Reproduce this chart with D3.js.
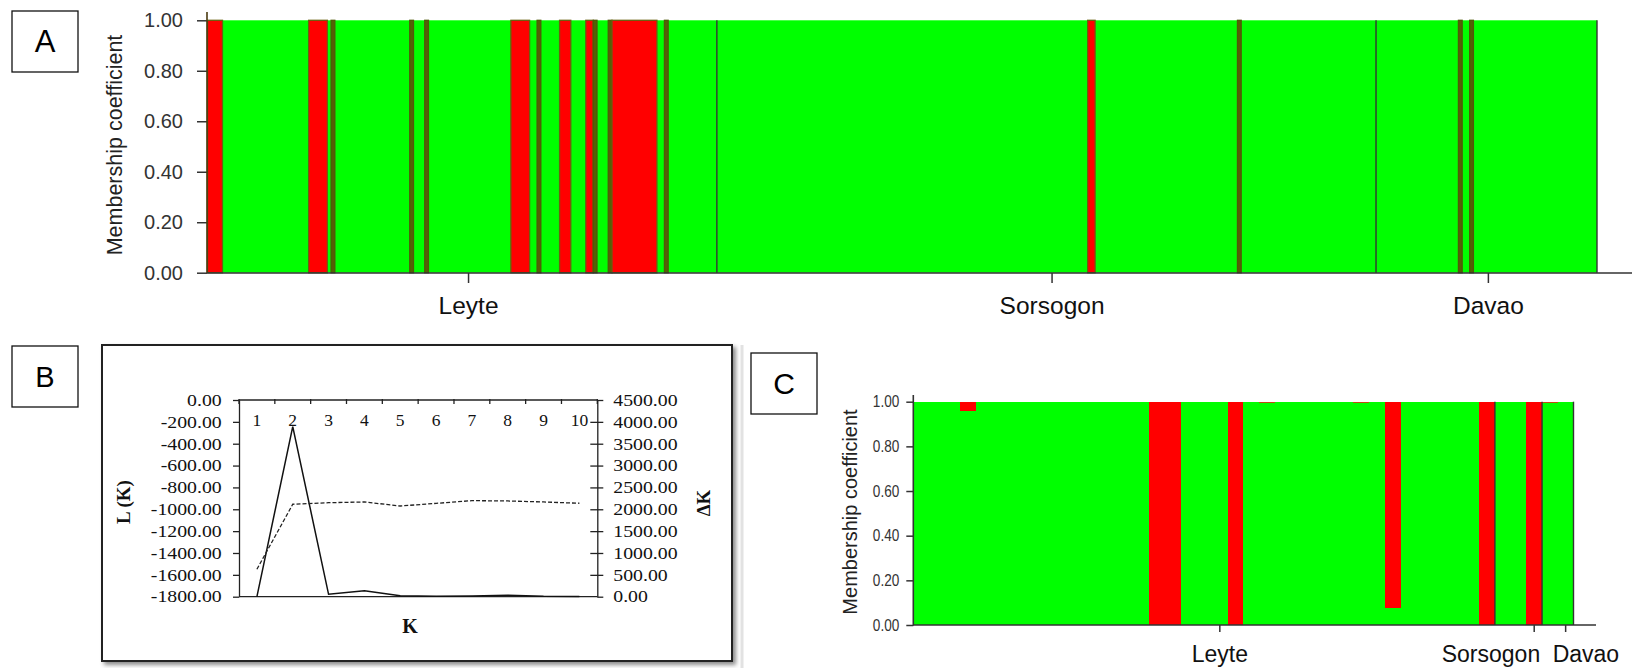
<!DOCTYPE html>
<html><head><meta charset="utf-8">
<script src="https://cdn.jsdelivr.net/npm/d3@7"></script>
<style>body{margin:0;background:#fff}svg{display:block}</style>
</head><body>
<svg id="fig" width="1632" height="668"></svg>
<script>
// ---------------- Panel A data (STRUCTURE bar plot, K=2) ----------------
const popsA = ["Leyte", "Sorsogon", "Davao"];
const popSizesA = [136, 176, 59];                 // individuals per population
const tickPosA = [69.7, 225.5, 342];             // label tick positions (individual units)
const redStartA = [0, 27, 33, 54, 58, 81, 88, 94, 101, 103, 107, 108, 122, 235, 275, 334, 337];
const redCountA = [4, 5, 1, 1, 1, 5, 1, 3, 2, 1, 1, 12, 1, 2, 1, 1, 1];
const yTicksA = [0, 0.2, 0.4, 0.6, 0.8, 1.0];

// ---------------- Panel B data (Evanno) ----------------
const kValues = [1, 2, 3, 4, 5, 6, 7, 8, 9, 10];
const deltaK = [0, 3890, 55, 137, 23, 8, 15, 35, 8, 3];
const meanLK = [-1549, -954, -940, -933, -970, -946, -921, -924, -933, -945];
const lkTicks = [0, -200, -400, -600, -800, -1000, -1200, -1400, -1600, -1800];
const dkTicks = [0, 500, 1000, 1500, 2000, 2500, 3000, 3500, 4000, 4500];

// ---------------- Panel C data ----------------
const popsC = ["Leyte", "Sorsogon", "Davao"];
const popSizesC = [37, 3, 2];
const tickPosC = [19.5, 39.5, 41.5];
const redC = [0, 0, 0, 0.04, 0, 0, 0, 0, 0, 0,
              0, 0, 0, 0, 0, 1, 1, 0, 0, 0,
              1, 0, 0.008, 0, 0, 0, 0, 0, 0.008, 0,
              0.925, 0, 0, 0, 0, 0, 1, 0, 0, 1,
              0.008, 0];
const yTicksC = [0, 0.2, 0.4, 0.6, 0.8, 1.0];

const GREEN = "#00ff00", RED = "#ff0000";
const svg = d3.select("#fig");
svg.append("rect").attr("width", 1632).attr("height", 668).attr("fill", "#fff");

const defs = svg.append("defs");
const f = defs.append("filter").attr("id", "shadow").attr("x", "-5%").attr("y", "-5%").attr("width", "115%").attr("height", "115%");
f.append("feDropShadow").attr("dx", 3).attr("dy", 3).attr("stdDeviation", 2).attr("flood-color", "#000").attr("flood-opacity", 0.45);

// panel label boxes
function panelBox(x, y, w, h, letter, fs) {
  svg.append("rect").attr("x", x).attr("y", y).attr("width", w).attr("height", h)
    .attr("fill", "#fff").attr("stroke", "#111").attr("stroke-width", 1.3);
  svg.append("text").attr("x", x + w / 2).attr("y", y + h / 2).attr("text-anchor", "middle")
    .attr("dominant-baseline", "central").attr("font-family", "Liberation Sans, Arial, sans-serif")
    .attr("font-size", fs).attr("fill", "#000").text(letter);
}
panelBox(12, 11, 66, 61, "A", 31);
panelBox(12, 346, 66, 61, "B", 29);
panelBox(751, 353, 66, 61, "C", 30);

// ================= Panel A =================
(function () {
  const total = d3.sum(popSizesA);
  const x = d3.scaleLinear().domain([0, total]).range([207.5, 1597]);
  const y = d3.scaleLinear().domain([0, 1]).range([272.7, 20.3]);
  const g = svg.append("g");
  const bounds = d3.cumsum([0].concat(popSizesA));
  g.selectAll("rect.green").data(popSizesA).join("rect").attr("class", "green")
    .attr("x", (d, i) => x(bounds[i])).attr("width", (d, i) => x(bounds[i + 1]) - x(bounds[i]))
    .attr("y", y(1)).attr("height", y(0) - y(1)).attr("fill", GREEN);
  const runs = redStartA.map((s, i) => ({ s, c: redCountA[i] }));
  g.selectAll("rect.red").data(runs).join("rect").attr("class", "red")
    .attr("x", d => x(d.s)).attr("width", d => x(d.s + d.c) - x(d.s))
    .attr("y", y(1)).attr("height", y(0) - y(1))
    .attr("fill", d => d.c === 1 ? "#556006" : RED)
    .attr("stroke", d => d.c === 1 ? "#4f5a08" : "#6a6010").attr("stroke-width", 1.3);
  g.selectAll("line.sep").data(bounds.slice(1)).join("line").attr("class", "sep")
    .attr("x1", d => x(d)).attr("x2", d => x(d)).attr("y1", y(1)).attr("y2", y(0))
    .attr("stroke", "#333").attr("stroke-width", 1.4);
  const ya = d3.axisLeft(y).tickValues(yTicksA).tickFormat(d3.format(".2f")).tickSize(10).tickPadding(14);
  const yg = g.append("g").attr("transform", "translate(207,0)").call(ya);
  yg.select(".domain").remove();
  yg.selectAll("line").attr("stroke", "#333").attr("stroke-width", 1.5);
  yg.selectAll("text").attr("font-family", "Liberation Sans, Arial, sans-serif").attr("font-size", 20).attr("fill", "#333");
  g.append("line").attr("x1", 207).attr("x2", 207).attr("y1", 12).attr("y2", 273).attr("stroke", "#4a3a10").attr("stroke-width", 1.6);
  g.append("line").attr("x1", 207).attr("x2", 1632).attr("y1", 273).attr("y2", 273).attr("stroke", "#333").attr("stroke-width", 1.5);
  const xt = g.selectAll("g.xt").data(popsA).join("g").attr("class", "xt")
    .attr("transform", (d, i) => `translate(${x(tickPosA[i])},273)`);
  xt.append("line").attr("y2", 10).attr("stroke", "#333").attr("stroke-width", 1.5);
  xt.append("text").attr("y", 41).attr("text-anchor", "middle").attr("font-family", "Liberation Sans, Arial, sans-serif")
    .attr("font-size", 24.5).attr("fill", "#111").text(d => d);
  svg.append("text").attr("transform", "translate(115,145) rotate(-90)").attr("text-anchor", "middle")
    .attr("dominant-baseline", "central").attr("font-family", "Liberation Sans, Arial, sans-serif")
    .attr("font-size", 21.5).attr("fill", "#222").text("Membership coefficient");
})();

// ================= Panel B =================
(function () {
  svg.append("rect").attr("x", 102).attr("y", 345).attr("width", 630).attr("height", 316)
    .attr("fill", "#fff").attr("stroke", "#222").attr("stroke-width", 2).attr("filter", "url(#shadow)");
  const L = 239, R = 597.3, T = 400, B = 596.7;
  const xk = d3.scaleLinear().domain([0.5, 10.5]).range([L, R]);
  const yl = d3.scaleLinear().domain([-1800, 0]).range([B, T]);
  const yd = d3.scaleLinear().domain([0, 4500]).range([B, T]);
  const g = svg.append("g");
  const serif = "Liberation Serif, Times New Roman, serif";
  g.append("line").attr("x1", L).attr("x2", R).attr("y1", T).attr("y2", T).attr("stroke", "#222").attr("stroke-width", 1.3);
  g.append("line").attr("x1", L).attr("x2", R).attr("y1", B).attr("y2", B).attr("stroke", "#222").attr("stroke-width", 1.3);
  const edges = d3.range(0, 11).map(i => i + 0.5);
  g.selectAll("line.kt").data(edges).join("line").attr("class", "kt")
    .attr("x1", d => xk(d)).attr("x2", d => xk(d)).attr("y1", T - 1).attr("y2", T + 4)
    .attr("stroke", "#222").attr("stroke-width", 1.3);
  g.selectAll("text.kl").data(kValues).join("text").attr("class", "kl")
    .attr("x", d => xk(d)).attr("y", 425.5).attr("text-anchor", "middle")
    .attr("font-family", serif).attr("font-size", 17.5).attr("fill", "#111").text(d => d);
  const la = d3.axisLeft(yl).tickValues(lkTicks).tickFormat(d3.format(".2f")).tickSize(6).tickSizeOuter(0);
  const lg = g.append("g").attr("transform", `translate(${L},0)`).call(la);
  lg.select(".domain").attr("stroke", "#222").attr("stroke-width", 1.3);
  lg.selectAll("line").attr("stroke", "#222").attr("stroke-width", 1.3);
  lg.selectAll("text").attr("x", -14.4).attr("transform", "scale(1.2,1)").attr("font-family", serif)
    .attr("font-size", 16.5).attr("fill", "#111").text(d => d3.format(".2f")(d).replace("−", "-"));
  const ra = d3.axisRight(yd).tickValues(dkTicks).tickFormat(d3.format(".2f")).tickSize(6).tickSizeOuter(0);
  const rg = g.append("g").attr("transform", `translate(${R},0)`).call(ra);
  rg.select(".domain").attr("stroke", "#222").attr("stroke-width", 1.3);
  rg.selectAll(".tick line").attr("x1", d => (d === 0 || d === 4500) ? 0 : -7).attr("stroke", "#222").attr("stroke-width", 1.3);
  rg.selectAll("text").attr("x", 13.3).attr("transform", "scale(1.2,1)").attr("font-family", serif)
    .attr("font-size", 16.5).attr("fill", "#111");
  const solid = d3.line().x((d, i) => xk(kValues[i])).y(d => yd(d));
  g.append("path").datum(deltaK).attr("d", solid).attr("fill", "none").attr("stroke", "#111").attr("stroke-width", 1.5);
  const dashed = d3.line().x((d, i) => xk(kValues[i])).y(d => yl(d));
  g.append("path").datum(meanLK).attr("d", dashed).attr("fill", "none").attr("stroke", "#222")
    .attr("stroke-width", 1.3).attr("stroke-dasharray", "4,2");
  g.append("text").attr("x", 410).attr("y", 633).attr("text-anchor", "middle").attr("font-family", serif)
    .attr("font-weight", "bold").attr("font-size", 20).attr("fill", "#111").text("K");
  g.append("text").attr("transform", "translate(123,502) rotate(-90)").attr("text-anchor", "middle")
    .attr("dominant-baseline", "central").attr("font-family", serif).attr("font-weight", "bold")
    .attr("font-size", 19).attr("fill", "#111").text("L (K)");
  g.append("text").attr("transform", "translate(703,503) rotate(-90)").attr("text-anchor", "middle")
    .attr("dominant-baseline", "central").attr("font-family", serif).attr("font-weight", "bold")
    .attr("font-size", 19).attr("fill", "#111").text("ΔK");
})();

svg.append("line").attr("x1", 742).attr("x2", 742).attr("y1", 345).attr("y2", 668).attr("stroke", "#e2e2e2").attr("stroke-width", 3);

// ================= Panel C =================
(function () {
  const n = redC.length;
  const x = d3.scaleLinear().domain([0, n]).range([913.3, 1573.5]);
  const y = d3.scaleLinear().domain([0, 1]).range([625, 401.7]);
  const g = svg.append("g").attr("shape-rendering", "crispEdges");
  const inds = redC.map((r, i) => ({ i, r }));
  g.selectAll("rect.g").data(inds).join("rect").attr("class", "g")
    .attr("x", d => x(d.i)).attr("width", d => x(d.i + 1) - x(d.i) + 0.6)
    .attr("y", d => y(1 - d.r)).attr("height", d => y(0) - y(1 - d.r)).attr("fill", GREEN);
  g.selectAll("rect.r").data(inds.filter(d => d.r > 0)).join("rect").attr("class", "r")
    .attr("x", d => x(d.i)).attr("width", d => x(d.i + 1) - x(d.i))
    .attr("y", y(1)).attr("height", d => Math.max(1.5, y(1 - d.r) - y(1)))
    .attr("fill", d => d.r < 0.02 && d.r > 0 && y(1 - d.r) - y(1) < 3 ? "#c24a10" : RED);
  const bounds = d3.cumsum(popSizesC);
  svg.selectAll("line.sepc").data(bounds).join("line").attr("class", "sepc")
    .attr("x1", d => x(d)).attr("x2", d => x(d)).attr("y1", y(1)).attr("y2", y(0))
    .attr("stroke", "#333").attr("stroke-width", 1.4);
  const ya = d3.axisLeft(y).tickValues(yTicksC).tickFormat(d3.format(".2f")).tickSize(7).tickPadding(7);
  const yg = svg.append("g").attr("transform", "translate(913.3,0)").call(ya);
  yg.select(".domain").remove();
  yg.selectAll("line").attr("stroke", "#333").attr("stroke-width", 1.5);
  yg.selectAll("text").attr("x", -14 / 0.85).attr("transform", "scale(0.85,1)")
    .attr("font-family", "Liberation Sans, Arial, sans-serif").attr("font-size", 16).attr("fill", "#333");
  svg.append("line").attr("x1", 913.3).attr("x2", 913.3).attr("y1", 395).attr("y2", 625.5).attr("stroke", "#333").attr("stroke-width", 1.6);
  svg.append("line").attr("x1", 913).attr("x2", 1596).attr("y1", 625).attr("y2", 625).attr("stroke", "#333").attr("stroke-width", 1.5);
  const anchors = ["middle", "end", "start"], dxs = [0, 6, -13];
  const xt = svg.selectAll("g.xtc").data(popsC).join("g").attr("class", "xtc")
    .attr("transform", (d, i) => `translate(${x(tickPosC[i])},625)`);
  xt.append("line").attr("y2", 7).attr("stroke", "#333").attr("stroke-width", 1.5);
  xt.append("text").attr("x", (d, i) => dxs[i]).attr("y", 36.5).attr("text-anchor", (d, i) => anchors[i])
    .attr("font-family", "Liberation Sans, Arial, sans-serif").attr("font-size", 23).attr("fill", "#111").text(d => d);
  svg.append("text").attr("transform", "translate(850,512) rotate(-90)").attr("text-anchor", "middle")
    .attr("dominant-baseline", "central").attr("font-family", "Liberation Sans, Arial, sans-serif")
    .attr("font-size", 20).attr("fill", "#222").text("Membership coefficient");
})();
</script>
</body></html>
